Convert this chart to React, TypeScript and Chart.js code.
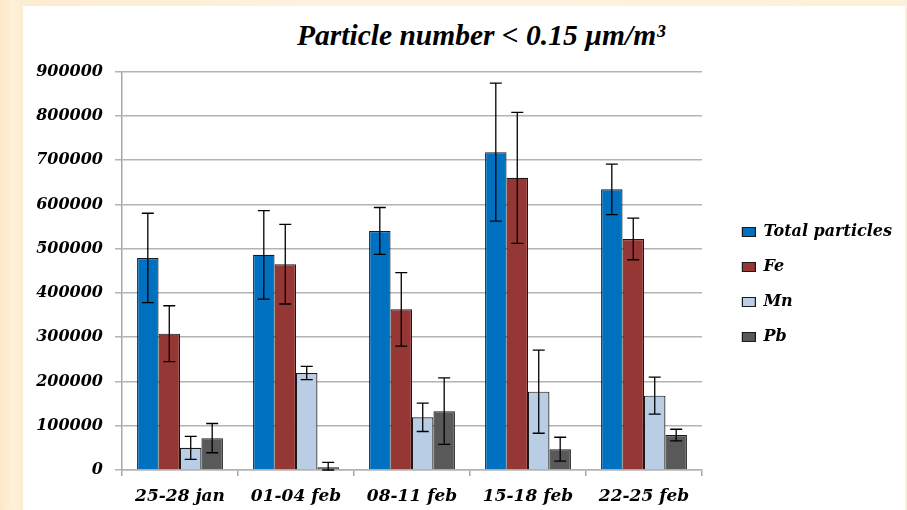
import { useEffect, useRef } from 'react';
import { Chart, registerables } from 'chart.js';

Chart.register(...registerables);

// Sampling periods
const categories = ['25-28 jan', '01-04 feb', '08-11 feb', '15-18 feb', '22-25 feb'];

// Series names
const seriesNames = ['Total particles', 'Fe', 'Mn', 'Pb'];

// Mean particle counts per period
const totalParticles = [479000, 486000, 540000, 718000, 634000];
const feValues = [308000, 465000, 363000, 660000, 522000];
const mnValues = [50000, 219000, 119000, 177000, 168000];
const pbValues = [72000, 6000, 133000, 47000, 79000];

// Standard deviations (symmetric error bars)
const totalErrors = [101000, 100000, 53000, 156000, 57000];
const feErrors = [63000, 90000, 83000, 148000, 47000];
const mnErrors = [26000, 15000, 32000, 94000, 42000];
const pbErrors = [33000, 11000, 75000, 27000, 13000];

// Value axis ticks
const yTicks = [0, 100000, 200000, 300000, 400000, 500000, 600000, 700000, 800000, 900000];

const chartTitle = 'Particle number < 0.15 µm/m³';

const seriesErrors = [totalErrors, feErrors, mnErrors, pbErrors];

const labelFont = { family: '"DejaVu Serif"', style: 'italic' as const, weight: 'bold' as const };
const legendFontCss = 'italic bold 16px "DejaVu Serif"';

// Draws the whiskers with caps on top of every bar
const errorBarsPlugin = {
  id: 'errorBars',
  afterDatasetsDraw(chart: any) {
    const { ctx } = chart;
    const yScale = chart.scales.y;
    const cap = 6;
    ctx.save();
    ctx.strokeStyle = '#000000';
    ctx.lineWidth = 1.3;
    chart.data.datasets.forEach((ds: any, i: number) => {
      const meta = chart.getDatasetMeta(i);
      const errs = seriesErrors[i];
      meta.data.forEach((bar: any, j: number) => {
        const v = ds.data[j] as number;
        const e = errs[j];
        const top = yScale.getPixelForValue(v + e);
        const bot = yScale.getPixelForValue(Math.max(0, v - e));
        const x = bar.x;
        ctx.beginPath();
        ctx.moveTo(x, top);
        ctx.lineTo(x, bot);
        ctx.moveTo(x - cap, top);
        ctx.lineTo(x + cap, top);
        ctx.moveTo(x - cap, bot);
        ctx.lineTo(x + cap, bot);
        ctx.stroke();
      });
    });
    ctx.restore();
  },
};

export default function App() {
  const canvasRef = useRef<HTMLCanvasElement | null>(null);

  useEffect(() => {
    const canvas = canvasRef.current;
    if (!canvas) return;
    const border = '#1a1a1a';
    const fills = ['#0070c0', '#953735', '#b9cde5', '#595959'];
    const values = [totalParticles, feValues, mnValues, pbValues];
    const chart = new Chart(canvas, {
      type: 'bar',
      data: {
        labels: categories,
        datasets: seriesNames.map((name, i) => ({
          label: name,
          data: values[i],
          backgroundColor: fills[i],
          borderColor: border,
          borderWidth: 1.2,
        })),
      },
      options: {
        responsive: false,
        maintainAspectRatio: false,
        animation: false,
        events: [],
        datasets: {
          bar: { categoryPercentage: 0.74, barPercentage: 1 },
        },
        layout: { padding: { left: 0, right: 3, top: 0, bottom: 0 } },
        plugins: {
          tooltip: { enabled: false },
          title: { display: false },
          legend: {
            display: true,
            position: 'right',
            maxWidth: 400,
            labels: {
              boxWidth: 13,
              boxHeight: 9,
              padding: 19,
              color: '#000000',
              font: { ...labelFont, size: 16 },
            },
          },
        },
        scales: {
          x: {
            type: 'category',
            offset: true,
            grid: { offset: true, drawOnChartArea: false, tickLength: 6, color: '#a6a6a6', lineWidth: 1.5 },
            border: { display: true, color: '#b3b3b3', width: 1.5 },
            ticks: { color: '#000000', font: { ...labelFont, size: 17 }, padding: 10, maxRotation: 0, autoSkip: false },
            afterFit: (s: any) => { s.height = 49; },
          },
          y: {
            type: 'linear',
            min: 0,
            max: 900000,
            afterBuildTicks: (s: any) => { s.ticks = yTicks.map((v) => ({ value: v })); },
            grid: { color: '#b3b3b3', lineWidth: 1.5, tickLength: 7 },
            border: { display: true, color: '#a6a6a6', width: 1.5 },
            ticks: { color: '#000000', font: { ...labelFont, size: 16 }, padding: 12, callback: (v: any) => String(v) },
            afterFit: (s: any) => { s.width = 99; },
          },
          // empty axis that keeps white space between the plot and the legend
          gap: {
            type: 'linear',
            position: 'right',
            display: true,
            grid: { display: false },
            border: { display: false },
            ticks: { display: false },
            afterFit: (s: any) => {
              const ctx = s.ctx;
              ctx.save();
              ctx.font = legendFontCss;
              const widest = Math.max(...seriesNames.map((n) => ctx.measureText(n).width));
              ctx.restore();
              s.width = Math.max(0, 150 - widest);
            },
          },
        },
      },
      plugins: [errorBarsPlugin],
    });
    return () => chart.destroy();
  }, []);

  return (
    <div
      style={{
        position: 'fixed',
        left: 0,
        top: 0,
        width: 907,
        height: 510,
        overflow: 'hidden',
        background: 'linear-gradient(90deg, #fbe8c6 0%, #fdf1da 1.5%, #fcecd0 2.5%, #fdf3e0 40%, #fdf0d8 100%)',
      }}
    >
      <div style={{ position: 'absolute', left: 23, top: 6, width: 882, height: 504, background: '#ffffff' }} />
      <div
        style={{
          position: 'absolute',
          left: 0,
          top: 18,
          width: 962,
          textAlign: 'center',
          fontFamily: '"Liberation Serif"',
          fontStyle: 'italic',
          fontWeight: 'bold',
          fontSize: '29.5px',
          lineHeight: '34px',
          color: '#000000',
          whiteSpace: 'nowrap',
        }}
      >
        {chartTitle}
      </div>
      <canvas
        ref={canvasRef}
        width={882}
        height={469}
        style={{ position: 'absolute', left: 23, top: 50, display: 'block', width: 882, height: 469 }}
      />
    </div>
  );
}
